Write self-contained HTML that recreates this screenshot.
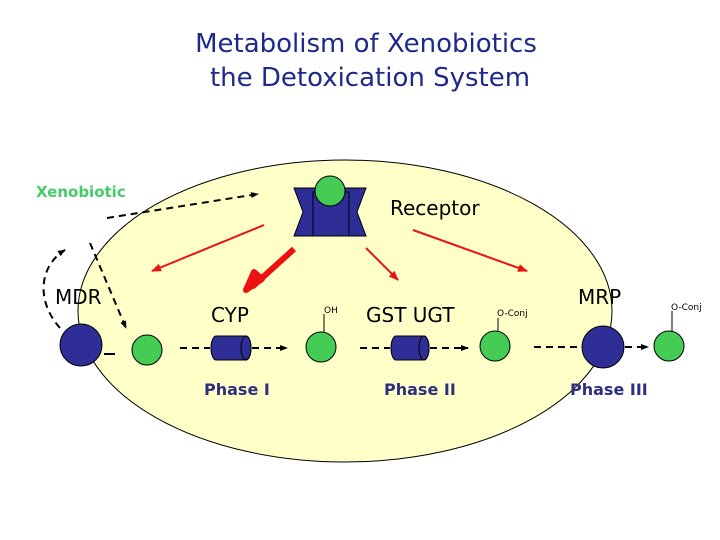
<!DOCTYPE html>
<html><head><style>body{margin:0;background:#fff}svg{display:block}</style></head><body>
<svg width="720" height="540" viewBox="0 0 720 540" font-family="DejaVu Sans, Liberation Sans, sans-serif">
<defs>
<marker id="ab" markerWidth="8" markerHeight="8" refX="7" refY="4" orient="auto" markerUnits="userSpaceOnUse"><path d="M0,1 L8,4 L0,7z" fill="#000"/></marker>
<marker id="ar" markerWidth="10" markerHeight="10" refX="9" refY="5" orient="auto" markerUnits="userSpaceOnUse"><path d="M0,1 L10,5 L0,9z" fill="#e11"/></marker>
</defs>
<text x="366" y="52" font-size="26" fill="#1e2a8a" text-anchor="middle">Metabolism of Xenobiotics</text>
<text x="370" y="86" font-size="26" fill="#1e2a8a" text-anchor="middle">the Detoxication System</text>
<ellipse cx="345" cy="311" rx="267" ry="151" fill="#ffffc8" stroke="#000" stroke-width="1"/>
<text x="36" y="197" font-size="15" font-weight="bold" fill="#44cc66">Xenobiotic</text>
<path d="M294,188 L366,188 L357,212 L366,236 L294,236 L303,212z" fill="#2e2e96" stroke="#000"/>
<rect x="313" y="192" width="36" height="44" fill="#2e2e96" stroke="#000"/>
<circle cx="330" cy="191" r="15" fill="#44cc55" stroke="#000"/>
<text x="390" y="215" font-size="20">Receptor</text>
<path d="M107,218 L258,194" stroke="#000" stroke-width="2" stroke-dasharray="7,5" fill="none" marker-end="url(#ab)"/>
<path d="M90,243 L126,328" stroke="#000" stroke-width="2" stroke-dasharray="7,5" fill="none" marker-end="url(#ab)"/>
<path d="M60,328 C35,300 40,265 65,250" stroke="#000" stroke-width="2" stroke-dasharray="7,5" fill="none" marker-end="url(#ab)"/>
<path d="M264,225 L152,271" stroke="#e11" stroke-width="2" marker-end="url(#ar)"/>
<path d="M294,249 L252,287" stroke="#e11" stroke-width="6"/>
<path d="M262,279 L246,290 L254,272z" fill="#e11" stroke="#e11" stroke-width="6" stroke-linejoin="round"/>
<path d="M366,248 L398,280" stroke="#e11" stroke-width="2" marker-end="url(#ar)"/>
<path d="M413,230 L527,271" stroke="#e11" stroke-width="2" marker-end="url(#ar)"/>
<text x="55" y="304" font-size="20">MDR</text>
<text x="211" y="322" font-size="20">CYP</text>
<text x="366" y="322" font-size="20">GST UGT</text>
<text x="578" y="304" font-size="20">MRP</text>
<circle cx="81" cy="345" r="21" fill="#2e2e96" stroke="#000"/>
<line x1="104" y1="354" x2="115" y2="354" stroke="#000" stroke-width="2"/>
<circle cx="147" cy="350" r="15" fill="#44cc55" stroke="#000"/>
<line x1="180" y1="348" x2="210" y2="348" stroke="#000" stroke-width="2" stroke-dasharray="7,5"/>
<path d="M216,336 L246,336 A5,12 0 0 1 246,360 L216,360 A5,12 0 0 1 216,336z" fill="#2e2e96" stroke="#000"/>
<ellipse cx="246" cy="348" rx="5" ry="12" fill="none" stroke="#000"/>
<line x1="252" y1="348" x2="287" y2="348" stroke="#000" stroke-width="2" stroke-dasharray="7,5" marker-end="url(#ab)"/>
<circle cx="321" cy="347" r="15" fill="#44cc55" stroke="#000"/>
<line x1="324" y1="314" x2="324" y2="332" stroke="#000"/>
<text x="324" y="313" font-size="9">OH</text>
<line x1="360" y1="348" x2="390" y2="348" stroke="#000" stroke-width="2" stroke-dasharray="7,5"/>
<path d="M396,336 L424,336 A5,12 0 0 1 424,360 L396,360 A5,12 0 0 1 396,336z" fill="#2e2e96" stroke="#000"/>
<ellipse cx="424" cy="348" rx="5" ry="12" fill="none" stroke="#000"/>
<line x1="430" y1="348" x2="468" y2="348" stroke="#000" stroke-width="2" stroke-dasharray="7,5" marker-end="url(#ab)"/>
<circle cx="495" cy="346" r="15" fill="#44cc55" stroke="#000"/>
<line x1="498" y1="318" x2="498" y2="331" stroke="#000"/>
<text x="497" y="316" font-size="9">O-Conj</text>
<line x1="534" y1="347" x2="585" y2="347" stroke="#000" stroke-width="2" stroke-dasharray="7,5"/>
<circle cx="603" cy="347" r="21" fill="#2e2e96" stroke="#000"/>
<line x1="625" y1="347" x2="648" y2="347" stroke="#000" stroke-width="2" stroke-dasharray="7,5" marker-end="url(#ab)"/>
<circle cx="669" cy="346" r="15" fill="#44cc55" stroke="#000"/>
<line x1="672" y1="311" x2="672" y2="331" stroke="#000"/>
<text x="671" y="310" font-size="9">O-Conj</text>
<text x="204" y="395" font-size="16" font-weight="bold" fill="#2e2e80">Phase I</text>
<text x="384" y="395" font-size="16" font-weight="bold" fill="#2e2e80">Phase II</text>
<text x="570" y="395" font-size="16" font-weight="bold" fill="#2e2e80">Phase III</text>
</svg>
</body></html>
